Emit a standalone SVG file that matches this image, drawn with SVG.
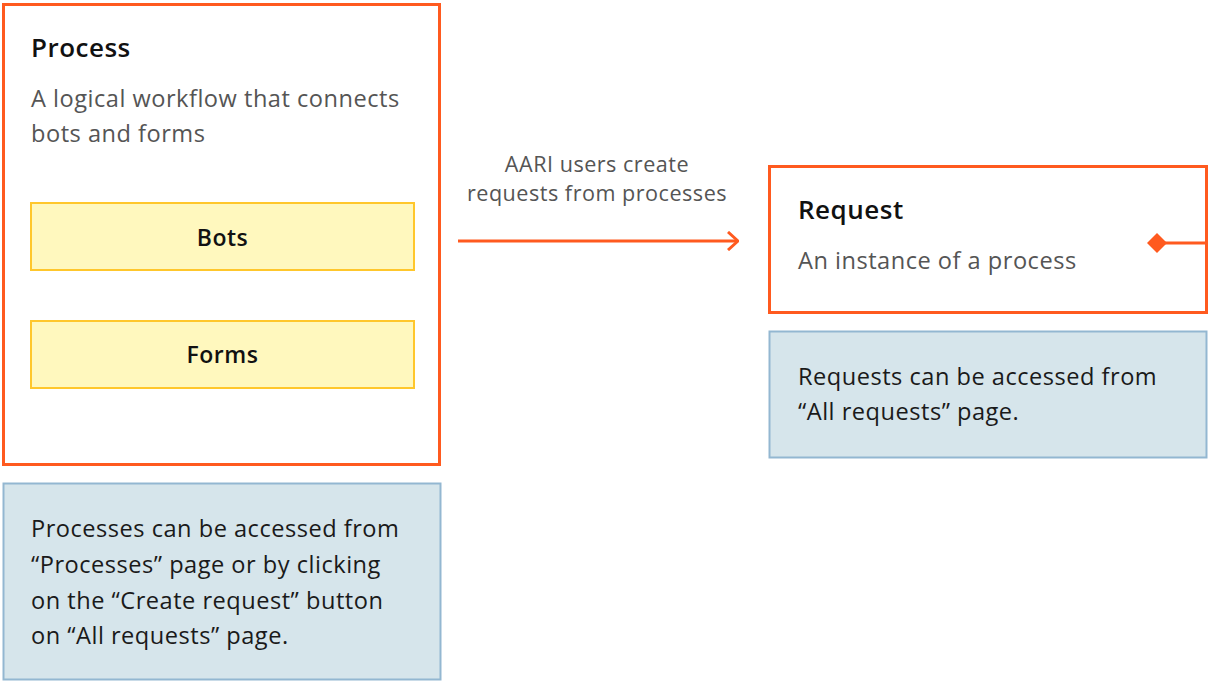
<svg xmlns="http://www.w3.org/2000/svg" width="1209" height="682" viewBox="0 0 1209 682">
<style>
.orange{fill:#ffffff;stroke:#FF5A1F;stroke-width:3}
.yellow{fill:#FFF8BE;stroke:#FFC72C;stroke-width:2}
.note{fill:#D6E5EB;stroke:#93B7D1;stroke-width:2}
.title{font-family:"Open Sans","Liberation Sans",sans-serif;font-weight:600;font-size:26px;fill:#111;letter-spacing:0.5px}
.desc{font-family:"Open Sans","Liberation Sans",sans-serif;font-size:23.6px;fill:#555;letter-spacing:0.5px}
.inner{font-family:"Open Sans","Liberation Sans",sans-serif;font-weight:600;font-size:23px;fill:#111;text-anchor:middle;letter-spacing:0.5px}
.ntext{font-family:"Open Sans","Liberation Sans",sans-serif;font-size:23.6px;fill:#1a1a1a;letter-spacing:0.5px}
.lbl{font-family:"Open Sans","Liberation Sans",sans-serif;font-size:21.6px;fill:#555;text-anchor:middle;letter-spacing:0.5px}
.conn{stroke:#FF5A1F;stroke-width:3;fill:none}
</style>
<defs>
<marker id="chev" viewBox="0 0 12 20" refX="11" refY="10" markerWidth="12" markerHeight="20" markerUnits="userSpaceOnUse" orient="auto">
<path d="M1,1 L11,10 L1,19" fill="none" stroke="#FF5A1F" stroke-width="3"/>
</marker>
</defs>
<g id="process">
<rect class="orange" x="3.5" y="4.5" width="436" height="460"/>
<text class="title" x="31" y="57">Process</text>
<text class="desc" x="31" y="107">A logical workflow that connects</text>
<text class="desc" x="31" y="142">bots and forms</text>
</g>
<g id="bots">
<rect class="yellow" x="31" y="203" width="383" height="67"/>
<text class="inner" x="222.5" y="246">Bots</text>
</g>
<g id="forms">
<rect class="yellow" x="31" y="321" width="383" height="67"/>
<text class="inner" x="222.5" y="363">Forms</text>
</g>
<g id="process-note">
<rect class="note" x="3.5" y="483.5" width="437" height="196"/>
<text class="ntext" x="31" y="537">Processes can be accessed from</text>
<text class="ntext" x="31" y="573">“Processes” page or by clicking</text>
<text class="ntext" x="31" y="609">on the “Create request” button</text>
<text class="ntext" x="31" y="644">on “All requests” page.</text>
</g>
<g id="request">
<rect class="orange" x="769.5" y="166.5" width="437" height="146"/>
<text class="title" x="798" y="219">Request</text>
<text class="desc" x="798" y="269">An instance of a process</text>
</g>
<g id="request-note">
<rect class="note" x="769.5" y="331.5" width="437" height="126"/>
<text class="ntext" x="798" y="385">Requests can be accessed from</text>
<text class="ntext" x="798" y="420">“All requests” page.</text>
</g>
<g id="connectors">
<line class="conn" x1="458" y1="241" x2="738" y2="241" marker-end="url(#chev)"/>
<text class="lbl" x="597" y="172">AARI users create</text>
<text class="lbl" x="597" y="201">requests from processes</text>
<line class="conn" x1="1160" y1="243" x2="1206" y2="243"/>
<path d="M1147,243 L1157,233 L1167,243 L1157,253 Z" fill="#FF5A1F"/>
</g>
</svg>
